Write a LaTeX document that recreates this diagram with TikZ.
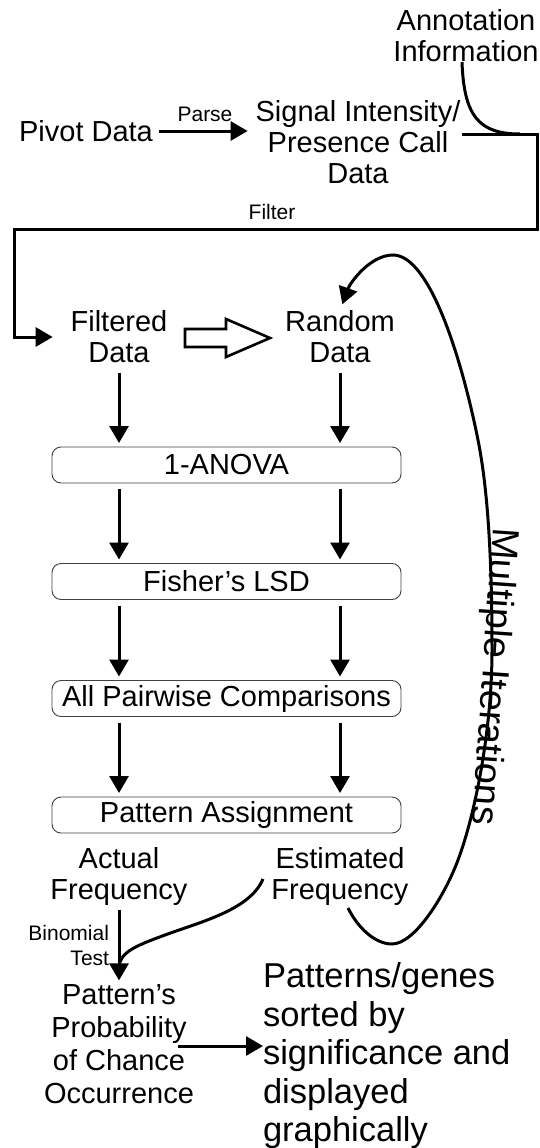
\documentclass[tikz,border=0pt]{standalone}
\usepackage{fontspec}
\setmainfont{Liberation Sans}
\usetikzlibrary{arrows.meta}
\begin{document}
\begin{tikzpicture}[x=1pt,y=-1pt,
  every node/.style={inner sep=0pt, outer sep=0pt, align=center},
  txt/.style={font=\fontsize{29}{31}\selectfont},
  smalltxt/.style={font=\fontsize{21}{25}\selectfont},
  bigtxt/.style={font=\fontsize{34.5}{38.5}\selectfont},
  arr/.style={line width=3pt, -{Triangle[length=17pt,width=19pt]}},
  ln/.style={line width=3pt},
  stage/.style={draw=black!75, line width=0.9pt, rounded corners=9pt,
    minimum width=349pt, minimum height=36pt, txt}]
\useasboundingbox (0,0) rectangle (540,1148);

% text nodes
\node[txt] (annot) at (466,36) {Annotation\\Information};
\node[txt] (pivot) at (86,131) {Pivot Data};
\node[txt] (sig) at (358,142) {Signal Intensity/\\Presence Call\\Data};
\node[smalltxt] (parse) at (205,114) {Parse};
\node[smalltxt] (filter) at (272,212) {Filter};
\node[txt] (fd) at (119,337) {Filtered\\Data};
\node[txt] (rd) at (340,337) {Random\\Data};
\node[stage] (b1) at (226.5,465) {1-ANOVA};
\node[stage] (b2) at (226.5,581.5) {Fisher’s LSD};
\node[stage] (b3) at (226.5,698.5) {All Pairwise Comparisons};
\node[stage] (b4) at (226.5,815) {Pattern Assignment};
\node[txt] (af) at (119,876) {Actual\\Frequency};
\node[txt] (ef) at (340,876) {Estimated\\Frequency};
\node[smalltxt, align=right, anchor=east] (binom) at (109,945) {Binomial\\Test};
\node[font=\fontsize{29}{33}\selectfont] (pp) at (119,1044) {Pattern’s\\Probability\\of Chance\\Occurrence};
\node[bigtxt, align=left, anchor=west] (res) at (263,1056) {Patterns/genes\\sorted by\\significance and\\displayed\\graphically};
\node[font=\fontsize{38}{40}\selectfont, rotate=-94, anchor=base west] (mi) at (493,527) {Multiple Iterations};

% named free ends
\coordinate (fs) at (462,134);
\coordinate (fj) at (520,134);
\coordinate (fl) at (14,229);
\coordinate (bs) at (263,879);
\coordinate (bj) at (119,966);
\coordinate (ls) at (348,908);
\coordinate (ps) at (178,1046);
\coordinate (ha) at (185,338);

% pivot -> signal
\draw[arr, shorten <=6pt, shorten >=8pt] (pivot.east) -- (pivot.east -| sig.west);

% annotation joins the filter line
\draw[ln] ([xshift=-4pt]annot.south) .. controls (464,115) and (478,134) .. (fj);

% filter line
\draw[arr, line join=miter, shorten >=18pt] (fs) -- (537,134) -- (537,229) -- (fl) -- (fl |- fd.west) -- (fd.west);

% hollow arrow filtered -> random
\draw[line width=2.6pt, line join=miter]
  (ha) ++(0,-9) -- ++(41,0) -- ++(0,-10) -- ++(44,19) -- ++(-44,19) -- ++(0,-10) -- ++(-41,0) -- cycle;

% column arrows
\draw[arr, shorten <=10pt, shorten >=4pt] (fd.south) -- (fd.south |- b1.north);
\draw[arr, shorten <=10pt, shorten >=4pt] (rd.south) -- (rd.south |- b1.north);
\draw[arr, shorten <=6pt, shorten >=4pt] (b1.south -| fd) -- (b2.north -| fd);
\draw[arr, shorten <=6pt, shorten >=4pt] (b1.south -| rd) -- (b2.north -| rd);
\draw[arr, shorten <=6pt, shorten >=4pt] (b2.south -| fd) -- (b3.north -| fd);
\draw[arr, shorten <=6pt, shorten >=4pt] (b2.south -| rd) -- (b3.north -| rd);
\draw[arr, shorten <=6pt, shorten >=4pt] (b3.south -| fd) -- (b4.north -| fd);
\draw[arr, shorten <=6pt, shorten >=4pt] (b3.south -| rd) -- (b4.north -| rd);

% binomial test
\draw[arr, shorten <=5pt, shorten >=4pt] (af.south) -- (af.south |- pp.north);
\draw[ln] (bs) .. controls (250,910) and (200,922) .. (165,935) .. controls (135,946) and (121,952) .. (bj);

% multiple iterations loop
\draw[arr, shorten >=7pt] (ls) .. controls (358,928) and (375,944) .. (392,944)
  .. controls (415,944) and (445,895) .. (458,860)
  .. controls (475,815) and (492,730) .. (492,650)
  .. controls (492,560) and (488,490) .. (478,440)
  .. controls (462,360) and (430,255) .. (393,255)
  .. controls (370,255) and (350,283) .. (rd.north);

% result
\draw[arr] (ps) -- (ps -| res.west);
\end{tikzpicture}
\end{document}
